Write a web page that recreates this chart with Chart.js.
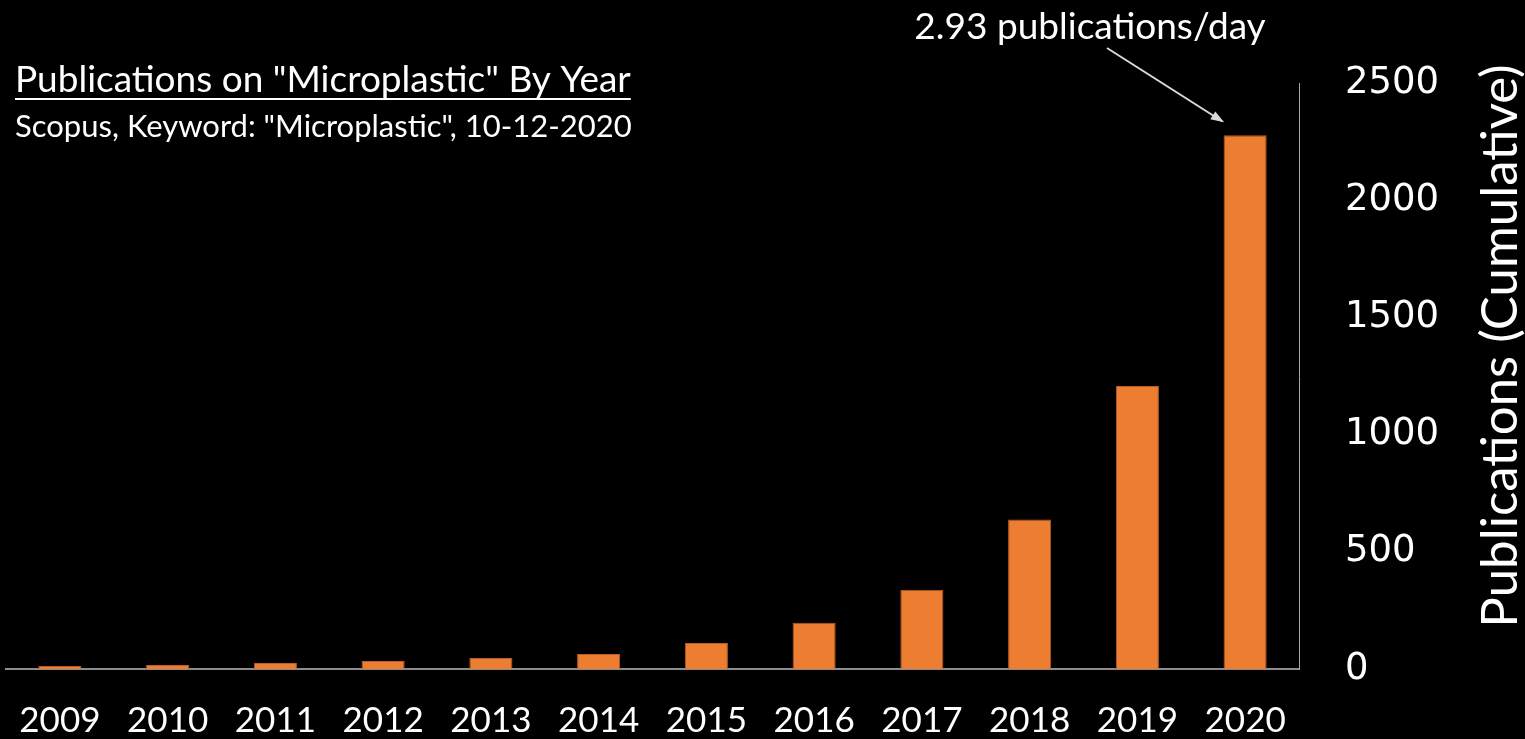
<!DOCTYPE html>
<html>
<head>
<meta charset="utf-8">
<script src="https://cdn.jsdelivr.net/npm/chart.js@4"></script>
<style>
  html, body { margin: 0; padding: 0; background: #000; }
  #wrap { width: 1525px; height: 739px; position: relative; }
</style>
</head>
<body>
<div id="wrap"><canvas id="chart"></canvas></div>
<script>
const years = ['2009', '2010', '2011', '2012', '2013', '2014', '2015', '2016', '2017', '2018', '2019', '2020'];
const publications = [13, 17, 26, 34, 47, 64, 111, 197, 338, 638, 1207, 2277];
const yTicks = [0, 500, 1000, 1500, 2000, 2500];

const titleText = 'Publications on "Microplastic" By Year';
const subtitleText = 'Scopus, Keyword: "Microplastic", 10-12-2020';
const noteText = '2.93 publications/day';
const yTitle = 'Publications (Cumulative)';

// titles, y title and arrow drawn on top of the chart
const overlay = {
  id: 'overlay',
  afterDraw(chart) {
    const ctx = chart.ctx;
    const area = chart.chartArea;
    ctx.save();
    ctx.fillStyle = '#fff';
    ctx.textBaseline = 'alphabetic';
    ctx.textAlign = 'left';

    ctx.font = '37px Lato';
    ctx.fillText(titleText, 15, 92);
    const w = ctx.measureText(titleText).width;
    ctx.fillRect(15, 98, w, 2);

    ctx.font = '31px Lato';
    ctx.fillText(subtitleText, 15, 137);

    ctx.font = '37px Lato';
    ctx.textAlign = 'center';
    ctx.fillText(noteText, 1090, 39);

    // rotated axis title, reading bottom to top
    ctx.save();
    ctx.translate(1501, (area.top + area.bottom) / 2 - 30);
    ctx.rotate(-Math.PI / 2);
    ctx.textBaseline = 'middle';
    ctx.font = '51px Lato';
    ctx.fillText(yTitle, 0, 0);
    ctx.restore();

    // arrow to the last bar
    const bar = chart.getDatasetMeta(0).data[years.length - 1];
    const x0 = 1107, y0 = 48;
    const x1 = bar.x - 23, y1 = bar.y - 14;
    ctx.strokeStyle = '#d9d9d9';
    ctx.fillStyle = '#d9d9d9';
    ctx.lineWidth = 2;
    ctx.beginPath();
    ctx.moveTo(x0, y0);
    ctx.lineTo(x1, y1);
    ctx.stroke();
    const a = Math.atan2(y1 - y0, x1 - x0);
    ctx.beginPath();
    ctx.moveTo(x1 + 2, y1 + 1);
    ctx.lineTo(x1 - 12 * Math.cos(a - 0.4), y1 - 12 * Math.sin(a - 0.4));
    ctx.lineTo(x1 - 12 * Math.cos(a + 0.4), y1 - 12 * Math.sin(a + 0.4));
    ctx.closePath();
    ctx.fill();
    ctx.restore();
  }
};

new Chart(document.getElementById('chart'), {
  type: 'bar',
  data: {
    labels: years,
    datasets: [{
      data: publications,
      backgroundColor: '#ED7D31',
      borderColor: '#B85E22',
      borderWidth: 1,
      categoryPercentage: 1,
      barPercentage: 0.4
    }]
  },
  options: {
    responsive: true,
    maintainAspectRatio: false,
    animation: false,
    layout: { padding: { left: 6, top: 83, right: 0, bottom: 0 } },
    plugins: {
      legend: { display: false },
      tooltip: { enabled: false }
    },
    scales: {
      x: {
        afterFit: (axis) => {
          axis.height = 70;
          axis.paddingLeft = 0;
          axis.paddingRight = 0;
        },
        grid: { display: false, drawTicks: false },
        border: { display: true, color: '#8c8c8c', width: 2 },
        ticks: {
          color: '#fff',
          font: { family: 'Lato', size: 35 },
          padding: 31,
          maxRotation: 0,
          autoSkip: false
        }
      },
      y: {
        position: 'right',
        min: 0,
        max: 2500,
        afterBuildTicks: (axis) => { axis.ticks = yTicks.map(v => ({ value: v })); },
        afterFit: (axis) => { axis.width = 226; },
        grid: { display: false, drawTicks: false },
        border: { display: true, color: '#a6a6a6', width: 1 },
        ticks: {
          color: '#fff',
          font: { family: "'DejaVu Sans'", size: 37 },
          padding: 46,
          callback: (v) => String(v)
        }
      }
    }
  },
  plugins: [overlay]
});
</script>
</body>
</html>
